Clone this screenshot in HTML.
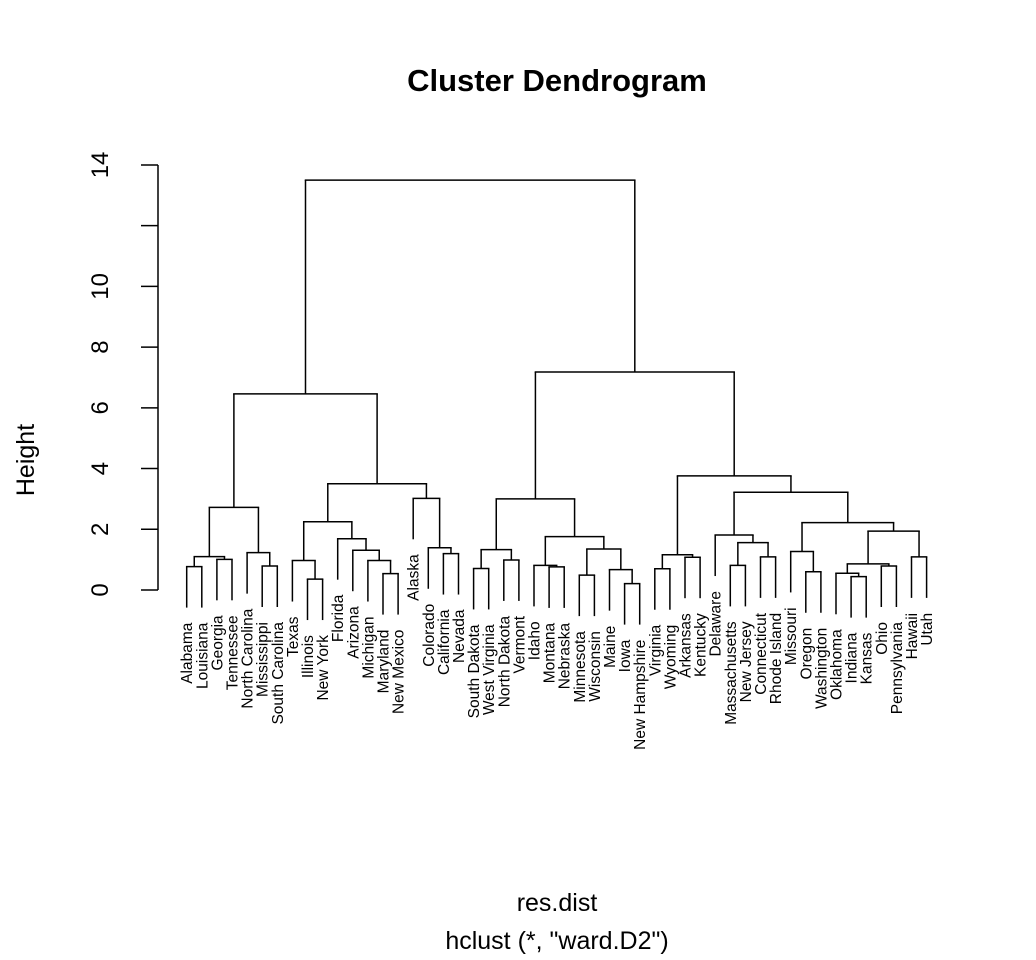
<!DOCTYPE html>
<html><head><meta charset="utf-8"><style>
html,body{margin:0;padding:0;background:#fff;}
svg{display:block;font-family:"Liberation Sans",Arial,sans-serif;}
</style></head><body>
<svg id="chart" width="1036" height="960" viewBox="0 0 1036 960">
<rect width="1036" height="960" fill="#fff"/>
<text x="557" y="91" text-anchor="middle" font-size="31" font-weight="bold">Cluster Dendrogram</text>
<text x="557" y="911" text-anchor="middle" font-size="25">res.dist</text>
<text x="557" y="949" text-anchor="middle" font-size="25">hclust (*, "ward.D2")</text>
<text transform="translate(34,460) rotate(-90)" text-anchor="middle" font-size="25">Height</text>
<g id="yaxis"></g>
<g id="tree"></g>
<g id="labels"></g>
</svg>
<script>
const labels = ["Alabama","Louisiana","Georgia","Tennessee","North Carolina","Mississippi","South Carolina","Texas","Illinois","New York","Florida","Arizona","Michigan","Maryland","New Mexico","Alaska","Colorado","California","Nevada","South Dakota","West Virginia","North Dakota","Vermont","Idaho","Montana","Nebraska","Minnesota","Wisconsin","Maine","Iowa","New Hampshire","Virginia","Wyoming","Arkansas","Kentucky","Delaware","Massachusetts","New Jersey","Connecticut","Rhode Island","Missouri","Oregon","Washington","Oklahoma","Indiana","Kansas","Ohio","Pennsylvania","Hawaii","Utah"];
const mergeLeft  = [-1,-3,1,-6,-5,3,-9,-8,-14,-13,-12,-11,8,-18,-17,-16,13,6,-20,-22,19,-25,-24,-27,-30,-29,24,23,21,-32,-34,30,-37,-39,33,-36,-42,-41,-45,-44,-47,40,-49,42,38,36,32,29,18];
const mergeRight = [-2,-4,2,-7,4,5,-10,7,-15,9,10,11,12,-19,14,15,16,17,-21,-23,20,-26,22,-28,-31,25,26,27,28,-33,-35,31,-38,-40,34,35,-43,37,-46,39,-48,41,-50,43,44,45,46,47,48];
const mergeHeight = [0.77,1.01,1.10,0.79,1.23,2.72,0.36,0.97,0.54,0.97,1.31,1.69,2.25,1.20,1.39,3.02,3.50,6.46,0.71,0.99,1.33,0.76,0.81,0.49,0.21,0.67,1.35,1.76,3.00,0.70,1.08,1.16,0.81,1.09,1.56,1.81,0.60,1.27,0.44,0.55,0.79,0.86,1.09,1.94,2.22,3.22,3.76,7.18,13.50];
const yTicks = [0,2,4,6,8,10,12,14];
const yTickLabels = ["0","2","4","6","8","10","","14"];

const NS="http://www.w3.org/2000/svg";
const X0=186.7, DX=15.1, Y0=590, KY=30.36;
const xScale = i => X0 + i*DX;
const yScale = h => Y0 - h*KY;
const maxH = Math.max(...mergeHeight);
const hang = 0.1*maxH;

function mk(tag, attrs, parent){const e=document.createElementNS(NS,tag);for(const k in attrs)e.setAttribute(k,attrs[k]);parent.appendChild(e);return e;}

// y axis
const ya=document.getElementById('yaxis');
const axLine = mk('line',{x1:158,x2:158,y1:yScale(yTicks[0]),y2:yScale(yTicks[yTicks.length-1]),stroke:'#000','stroke-width':1.5},ya);


yTicks.forEach((t,i)=>{
  const y=yScale(t);
  const tk=mk('line',{x1:141,x2:158,y1:y,y2:y,stroke:'#000','stroke-width':1.5},ya);
  
  
  if(yTickLabels[i]){
    const tx=mk('text',{transform:`translate(108,${y}) rotate(-90)`,'text-anchor':'middle','font-size':24},ya);
    tx.textContent=yTickLabels[i];
    
    
  }
});

// compute positions
const nodeX=[];
function posOf(ref){return ref<0 ? xScale(-ref-1) : nodeX[ref-1];}
for(let i=0;i<mergeHeight.length;i++){nodeX[i]=(posOf(mergeLeft[i])+posOf(mergeRight[i]))/2;}
const tree=document.getElementById('tree');
const lab=document.getElementById('labels');
for(let i=0;i<mergeHeight.length;i++){
  const h=mergeHeight[i], yT=yScale(h);
  [mergeLeft[i],mergeRight[i]].forEach(ref=>{
    const x=posOf(ref);
    let yB;
    if(ref<0){
      yB=yScale(h-hang);
      const t=mk('text',{transform:`translate(${x+5.5},${yB+15}) rotate(-90)`,'text-anchor':'end','font-size':15.5},lab);
      t.textContent=labels[-ref-1];
      
      
    } else yB=yScale(mergeHeight[ref-1]);
    const l=mk('line',{x1:x,x2:x,y1:yT,y2:yB,stroke:'#000','stroke-width':1.5},tree);
    
    
  });
  const hl=mk('line',{x1:posOf(mergeLeft[i]),x2:posOf(mergeRight[i]),y1:yT,y2:yT,stroke:'#000','stroke-width':1.5,'stroke-linecap':'square'},tree);
  
  
}
</script>
</body></html>
